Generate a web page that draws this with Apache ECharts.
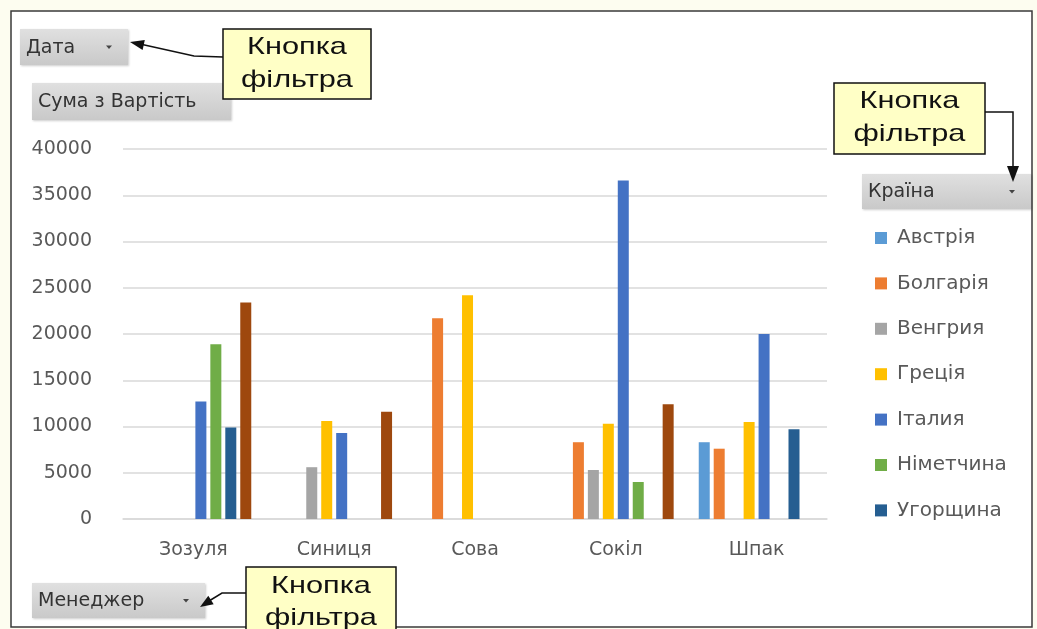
<!DOCTYPE html>
<html>
<head>
<meta charset="utf-8">
<script src="https://cdn.jsdelivr.net/npm/echarts@6/dist/echarts.min.js"></script>
<style>
html,body{margin:0;padding:0;background:#FDFDF0;}
#c{width:1037px;height:629px;}
</style>
</head>
<body>
<div id="c"></div>
<script>
const categories = ['Зозуля', 'Синиця', 'Сова', 'Сокіл', 'Шпак'];
const legendNames = ['Австрія', 'Болгарія', 'Венгрия', 'Греція', 'Італия', 'Німетчина', 'Угорщина'];
const austria   = [null, null, null, null, 8300];
const bulgaria  = [null, null, 21700, 8300, 7600];
const hungary1  = [null, 5600, null, 5300, null];
const greece    = [null, 10600, 24200, 10300, 10500];
const italy     = [12700, 9300, null, 36600, 20000];
const germany   = [18900, null, null, 4000, null];
const hungary2  = [9900, null, null, null, 9700];
const other     = [23400, 11600, null, 12400, null];
const yMin = 0, yMax = 40000, yStep = 5000;

const colors = ['#5B9BD5', '#ED7D31', '#A5A5A5', '#FFC000', '#4472C4', '#70AD47', '#255E91', '#9E480E'];
const seriesData = [austria, bulgaria, hungary1, greece, italy, germany, hungary2, other];
const seriesNames = legendNames.concat(['Інші']);

const FONT = 'DejaVu Sans';
const TXT = '#595959';

function button(x, y, w, h, label, arrow) {
  const els = [{
    type: 'rect', z: 50,
    shape: {x: x, y: y, width: w, height: h},
    style: {
      fill: {type: 'linear', x: 0, y: 0, x2: 0, y2: 1,
        colorStops: [{offset: 0, color: '#E0E0E0'}, {offset: 1, color: '#C9C9C9'}]},
      shadowBlur: 2, shadowColor: 'rgba(0,0,0,0.2)', shadowOffsetX: 1, shadowOffsetY: 1
    }
  }, {
    type: 'text', z: 51, x: x + 6, y: y + h / 2 + 1,
    style: {text: label, font: '19px "' + FONT + '"', fill: '#333333', textVerticalAlign: 'middle'}
  }];
  if (arrow) {
    const ax = x + w - 19, ay = y + h / 2;
    els.push({type: 'polygon', z: 51,
      shape: {points: [[ax - 3, ay - 1.5], [ax + 3, ay - 1.5], [ax, ay + 2]]},
      style: {fill: '#444'}});
  }
  return els;
}

function callout(x, y, w, h, cx, l1y, l2y) {
  return [{
    type: 'rect', z: 60, shape: {x: x, y: y, width: w, height: h},
    style: {fill: '#FFFFC6', stroke: '#111', lineWidth: 1.5}
  }, {
    type: 'text', z: 61, x: cx, y: l1y, scaleX: 1.28,
    style: {text: 'Кнопка', font: '24px "Liberation Sans"', fill: '#111', textAlign: 'center', textVerticalAlign: 'middle'}
  }, {
    type: 'text', z: 61, x: cx, y: l2y, scaleX: 1.28,
    style: {text: 'фільтра', font: '24px "Liberation Sans"', fill: '#111', textAlign: 'center', textVerticalAlign: 'middle'}
  }];
}

let graphics = [{
  type: 'rect', z: -100, silent: true,
  shape: {x: 11, y: 11, width: 1021, height: 616},
  style: {fill: '#FFFFFF', stroke: '#3A3A3A', lineWidth: 1.5}
}];
graphics = graphics.concat(button(20, 29, 108, 36, 'Дата', true));
graphics = graphics.concat(button(32, 83, 199, 37, 'Сума з Вартість', false));
graphics = graphics.concat(button(862, 174, 169, 35, 'Країна', true));
graphics = graphics.concat(button(32, 583, 173, 35, 'Менеджер', true));
graphics = graphics.concat(callout(223, 29, 148, 70, 297, 47, 80));
graphics = graphics.concat(callout(834, 83, 151, 71, 909.5, 101, 134));
graphics = graphics.concat(callout(246, 567, 150, 80, 321, 586, 618));
// arrows
graphics.push({type: 'polyline', z: 70, shape: {points: [[223, 57], [194, 56], [140, 44]]}, style: {stroke: '#111', lineWidth: 1.5}});
graphics.push({type: 'polygon', z: 70, shape: {points: [[130, 42], [144.8, 40.1], [142.6, 49.9]]}, style: {fill: '#111'}});
graphics.push({type: 'polyline', z: 70, shape: {points: [[985, 112], [1013, 112], [1013, 168]]}, style: {stroke: '#111', lineWidth: 1.5}});
graphics.push({type: 'polygon', z: 70, shape: {points: [[1013, 182], [1007, 166], [1019, 166]]}, style: {fill: '#111'}});
graphics.push({type: 'polyline', z: 70, shape: {points: [[246, 593], [222, 593], [209, 601]]}, style: {stroke: '#111', lineWidth: 1.5}});
graphics.push({type: 'polygon', z: 70, shape: {points: [[200, 607], [213.7, 604.2], [208.3, 595.8]]}, style: {fill: '#111'}});

const chart = echarts.init(document.getElementById('c'), null, {renderer: 'canvas'});
chart.setOption({
  backgroundColor: '#FDFDF0',
  animation: false,
  color: colors,
  textStyle: {fontFamily: FONT},
  grid: {left: 123, right: 210, top: 149, bottom: 110, containLabel: false},
  legend: {
    data: legendNames,
    orient: 'vertical',
    left: 875, top: 228, padding: 0,
    itemWidth: 12, itemHeight: 12, itemGap: 25.4,
    icon: 'rect',
    textStyle: {fontSize: 20, color: TXT, fontFamily: FONT, padding: [0, 0, 0, 5]}
  },
  xAxis: {
    type: 'category',
    data: categories,
    axisLine: {lineStyle: {color: '#D9D9D9', width: 1.5}},
    axisTick: {show: false},
    axisLabel: {fontSize: 19, color: TXT, margin: 22, fontFamily: FONT}
  },
  yAxis: {
    type: 'value',
    min: yMin, max: yMax, interval: yStep,
    axisLine: {show: false},
    axisTick: {show: false},
    splitLine: {lineStyle: {color: '#D9D9D9', width: 1.5}},
    axisLabel: {fontSize: 19, color: TXT, margin: 31, fontFamily: FONT,
      formatter: function (v) { return String(v); }}
  },
  series: seriesNames.map(function (n, i) {
    return {
      name: n, type: 'bar', data: seriesData[i],
      barWidth: 11, barGap: '36%',
      itemStyle: {color: colors[i]}
    };
  }),
  graphic: graphics
});
</script>
</body>
</html>
